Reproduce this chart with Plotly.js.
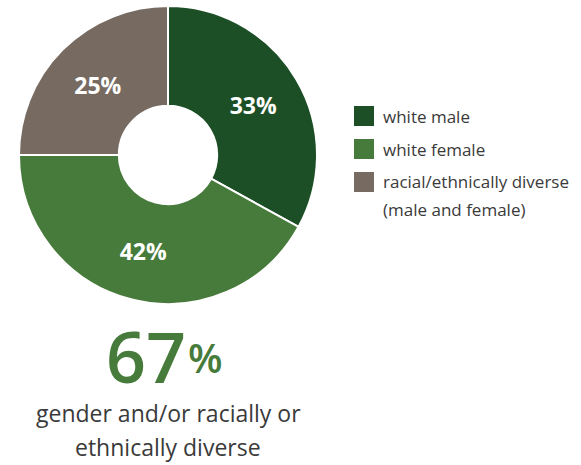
<!DOCTYPE html>
<html>
<head>
<meta charset="utf-8">
<script src="https://cdn.plot.ly/plotly-3.0.1.min.js"></script>
<style>html,body{margin:0;padding:0;background:#fff;}#chart{width:581px;height:465px;}</style>
</head>
<body>
<div id="chart"></div>
<script>
// ---- data ----
var categories = ["white male", "white female", "racial/ethnically diverse<br>(male and female)"];
var values = [33, 42, 25];
var sliceColors = ["#1c4f26", "#477b3b", "#766a61"];
var summaryValue = "67";
var summaryUnit = "%";
var summaryCaption = ["gender and/or racially or", "ethnically diverse"];

// ---- layout helpers ----
var W = 581, H = 465;
function px(x) { return x / W; }
function py(y) { return 1 - y / H; }
var FONT = "Open Sans, sans-serif";

var trace = {
  type: "pie",
  labels: categories,
  values: values,
  sort: false,
  direction: "clockwise",
  rotation: 0,
  hole: 0.33,
  marker: { colors: sliceColors, line: { color: "#ffffff", width: 2 } },
  textinfo: "percent",
  texttemplate: "%{percent:.0%}",
  textposition: "inside",
  insidetextorientation: "horizontal",
  textfont: { family: FONT, size: 23, color: "#ffffff", weight: 700 },
  insidetextfont: { family: FONT, size: 23, color: "#ffffff", weight: 700 },
  hoverinfo: "label+percent",
  showlegend: false,
  domain: { x: [px(19), px(317)], y: [py(304), py(6)] }
};

// custom legend built from the arrays
var shapes = [];
var annotations = [];
var legendTop = [106, 139, 172];
for (var i = 0; i < categories.length; i++) {
  var t = legendTop[i];
  shapes.push({
    type: "rect", xref: "paper", yref: "paper",
    x0: px(354), x1: px(374), y0: py(t + 20), y1: py(t),
    fillcolor: sliceColors[i], line: { width: 0 }
  });
  var lines = categories[i].split("<br>");
  for (var j = 0; j < lines.length; j++) {
    annotations.push({
      xref: "paper", yref: "paper", x: px(381), y: py(t + 10 + j * 27),
      xanchor: "left", yanchor: "middle", align: "left", showarrow: false,
      text: lines[j],
      font: { family: FONT, size: 17, color: "#3a3a3a" }
    });
  }
}

annotations.push({
  xref: "paper", yref: "paper", x: px(188), y: py(392),
  xanchor: "right", yanchor: "bottom", yshift: -14, showarrow: false,
  text: summaryValue,
  font: { family: FONT, size: 70, color: "#477b3b", weight: 600 }
});
annotations.push({
  xref: "paper", yref: "paper", x: px(186), y: py(336),
  xanchor: "left", yanchor: "top", yshift: 8, showarrow: false,
  text: summaryUnit,
  font: { family: FONT, size: 40, color: "#477b3b", weight: 600 }
});
for (var k = 0; k < summaryCaption.length; k++) {
  annotations.push({
    xref: "paper", yref: "paper", x: px(168), y: py(413 + k * 34),
    xanchor: "center", yanchor: "middle", align: "center", showarrow: false,
    text: summaryCaption[k],
    font: { family: FONT, size: 23, color: "#3a3a3a" }
  });
}

var layout = {
  width: W, height: H,
  margin: { l: 0, r: 0, t: 0, b: 0 },
  paper_bgcolor: "#ffffff",
  showlegend: false,
  uniformtext: { mode: "show", minsize: 23 },
  shapes: shapes,
  annotations: annotations
};

Plotly.newPlot("chart", [trace], layout, { displayModeBar: false, staticPlot: true });
</script>
</body>
</html>
